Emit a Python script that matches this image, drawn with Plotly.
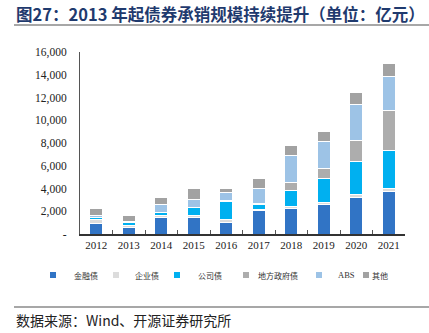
import plotly.graph_objects as go

# Annual bond underwriting volume by type (unit: 100 million yuan)
years = ["2012", "2013", "2014", "2015", "2016", "2017", "2018", "2019", "2020", "2021"]
financial = [910, 560, 1470, 1440, 1030, 2050, 2230, 2580, 3230, 3730]
enterprise = [330, 230, 200, 210, 260, 120, 150, 200, 270, 290]
corporate = [230, 230, 200, 680, 1560, 440, 1470, 2110, 2880, 3320]
local_gov = [0, 0, 0, 0, 60, 60, 650, 850, 1850, 3520]
abs_vals = [120, 90, 730, 670, 730, 1350, 2440, 2350, 3170, 2970]
other = [670, 530, 650, 970, 380, 850, 850, 880, 1080, 1200]

series = [
    ("金融债", financial, "#3174C5"),
    ("企业债", enterprise, "#DCDCDC"),
    ("公司债", corporate, "#00B0F0"),
    ("地方政府债", local_gov, "#ADADAD"),
    ("ABS", abs_vals, "#9DC3E6"),
    ("其他", other, "#A2A2A2"),
]

y_ticks = [0, 2000, 4000, 6000, 8000, 10000, 12000, 14000, 16000]
y_ticktext = ["-"] + [f"{v:,}" for v in y_ticks[1:]]

W, H = 429, 333
L, R, T, B = 80, 24, 52, 99
plot_w = W - L - R
plot_h = H - T - B


def py(pix):
    """Convert a pixel row on the page to paper y."""
    return (H - B - pix) / plot_h


def px(pix):
    """Convert a pixel column on the page to paper x."""
    return (pix - L) / plot_w


serif = "Liberation Serif, Times New Roman, Noto Sans CJK SC, serif"
cjk = "Noto Sans CJK SC, Liberation Serif, serif"

fig = go.Figure()
for name, vals, color in series:
    fig.add_trace(go.Bar(
        x=years, y=vals, name=name, showlegend=False,
        marker=dict(color=color, line=dict(color="white", width=1)),
    ))

fig.update_layout(
    width=W, height=H,
    margin=dict(l=L, r=R, t=T, b=B),
    paper_bgcolor="white", plot_bgcolor="white",
    barmode="stack", bargap=0.6,
    font=dict(family=serif, size=11, color="#222222"),
    showlegend=False,
    xaxis=dict(
        type="category", showline=True, linecolor="#333333", linewidth=1.5,
        ticks="inside", tickson="boundaries", ticklen=4, tickcolor="#555555",
        tickfont=dict(family=serif, size=11, color="#222222"),
        showgrid=False, fixedrange=True,
    ),
    yaxis=dict(
        range=[0, 16000], tickvals=y_ticks, ticktext=y_ticktext,
        showline=True, linecolor="#555555", linewidth=1,
        ticks="", showgrid=False, zeroline=False,
        tickfont=dict(family=serif, size=11.5, color="#222222"),
        ticklabelstandoff=10,
    ),
)

# Legend row: small square key followed by the series name
key_x = [53, 116, 177, 246, 319, 366]
label_x = [72, 133, 196, 256, 336, 370]
legend_y = 275
for (name, _, color), kx, lx in zip(series, key_x, label_x):
    fig.add_shape(type="rect", xref="paper", yref="paper",
                  x0=px(kx - 3), x1=px(kx + 3), y0=py(legend_y + 3), y1=py(legend_y - 3),
                  fillcolor=color, line=dict(width=0))
    fig.add_annotation(
        xref="paper", yref="paper", x=px(lx), y=py(legend_y), xanchor="left", yanchor="middle",
        text=name, showarrow=False,
        font=dict(family=serif if name == "ABS" else cjk, size=8.5 if name == "ABS" else 8,
                  color="#333333"),
    )

# Title and source captions with their rules
fig.add_annotation(
    xref="paper", yref="paper", x=px(14), y=py(14), xanchor="left", yanchor="middle",
    text="<b>图27：2013 年起债券承销规模持续提升（单位：亿元）</b>",
    showarrow=False, font=dict(family=cjk, size=16.5, color="#1F3A6E"),
)
fig.add_shape(type="line", xref="paper", yref="paper",
              x0=px(14), x1=px(429), y0=py(25), y1=py(25),
              line=dict(color="#8A8A8A", width=1.5))
fig.add_shape(type="line", xref="paper", yref="paper",
              x0=px(14), x1=px(429), y0=py(307), y1=py(307),
              line=dict(color="#8A8A8A", width=1.5))
fig.add_annotation(
    xref="paper", yref="paper", x=px(14), y=py(320), xanchor="left", yanchor="middle",
    text="数据来源：Wind、开源证券研究所",
    showarrow=False, font=dict(family=cjk, size=14, color="#222222"),
)

fig.write_html("out.html")
